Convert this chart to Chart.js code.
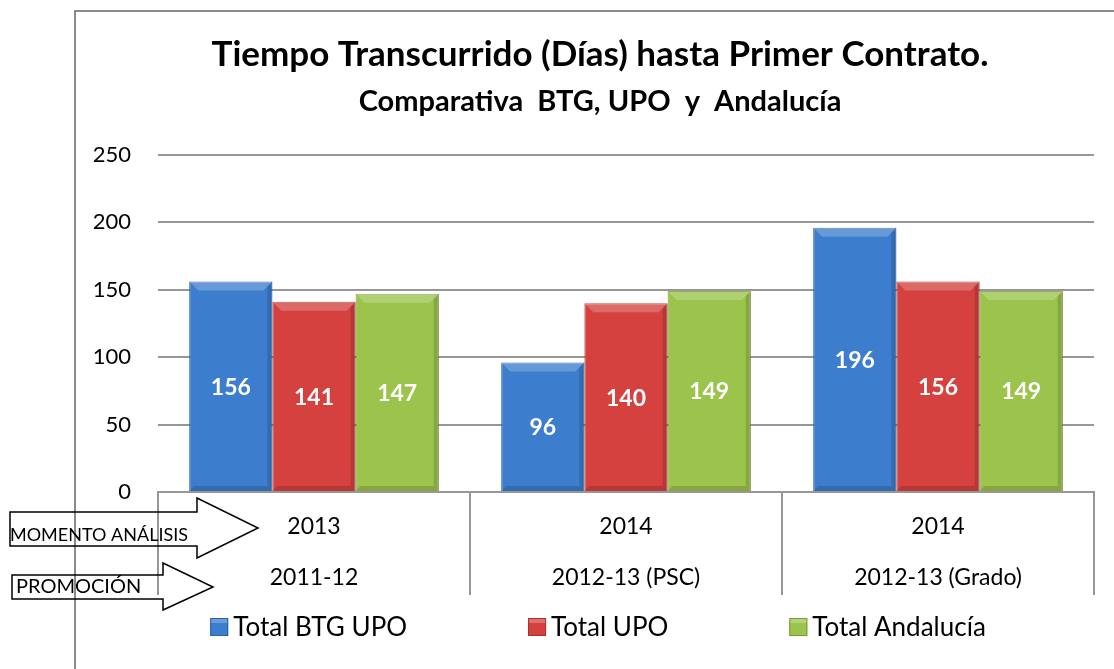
<!DOCTYPE html>
<html>
<head>
<meta charset="utf-8">
<script src="https://cdn.jsdelivr.net/npm/chart.js@4/dist/chart.umd.min.js"></script>
<style>
	html, body { margin: 0; padding: 0; background: #fff; }
	#wrap { width: 1114px; height: 669px; position: relative; }
</style>
</head>
<body>
<div id="wrap"><canvas id="myChart" width="1114" height="669"></canvas></div>
<script>
// chart data
const 	years = ['2013', '2014', '2014'],
		promotions = ['2011-12', '2012-13 (PSC)', '2012-13 (Grado)'],
		totalBtgUpo = [156, 96, 196],
		totalUpo = [141, 140, 156],
		totalAndalucia = [147, 149, 149],
		seriesNames = ['Total BTG UPO', 'Total UPO', 'Total Andalucía'],
		arrowLabels = ['MOMENTO ANÁLISIS', 'PROMOCIÓN'];

const 	fillColors = ['#3c7dcd', '#d5413e', '#9cc34b'],
		edgeColors = ['#2d62a8', '#a9322f', '#7a9b35'],
		gridColor = '#979797';

Chart.defaults.font.family = 'Lato, "Open Sans", sans-serif';
Chart.defaults.color = '#000';

// frame round the chart
const framePlugin = {
	id: 'frame',
	beforeDraw(chart){
		const c = chart.ctx;
		c.save();
		c.strokeStyle = '#8a8a8a';
		c.lineWidth = 2;
		c.beginPath();
		c.moveTo(75, 669);
		c.lineTo(75, 11);
		c.lineTo(1114, 11);
		c.stroke();
		c.restore();
	}
}

// bevel look + values inside bars
const barLabels = {
	id: 'barLabels',
	afterDatasetsDraw(chart){
		const c = chart.ctx;
		c.save();
		chart.data.datasets.forEach((ds, i)=>{
			chart.getDatasetMeta(i).data.forEach((bar, j)=>{
				const l = bar.x - bar.width / 2, r = bar.x + bar.width / 2,
					  t = bar.y, b = bar.base, bv = 9;
				// top bevel
				c.fillStyle = 'rgba(255,255,255,0.22)';
				c.beginPath();
				c.moveTo(l, t); c.lineTo(r, t); c.lineTo(r - bv, t + bv); c.lineTo(l + bv, t + bv);
				c.closePath(); c.fill();
				// right + bottom shade
				c.fillStyle = 'rgba(0,0,0,0.14)';
				c.beginPath();
				c.moveTo(r, t); c.lineTo(r, b); c.lineTo(r - 5, b - 5); c.lineTo(r - 5, t + 5);
				c.closePath(); c.fill();
				c.beginPath();
				c.moveTo(l, b); c.lineTo(r, b); c.lineTo(r - 5, b - 5); c.lineTo(l + 5, b - 5);
				c.closePath(); c.fill();
				// value
				c.fillStyle = '#fff';
				c.font = 'bold 23px Lato';
				c.textAlign = 'center';
				c.textBaseline = 'middle';
				c.fillText(ds.data[j], bar.x, (t + b) / 2 + 1);
			})
		})
		c.restore();
	}
}

// arrows on the left + legend under the chart
const extras = {
	id: 'extras',
	afterDraw(chart){
		const c = chart.ctx;
		c.save();
		c.strokeStyle = '#000';
		c.lineWidth = 1.5;
		const arrows = [
			[[10,512],[197,512],[197,498],[258,528],[197,558],[197,546],[10,546]],
			[[12,575],[163,575],[163,563],[213,587],[163,610],[163,599],[12,599]]
		];
		arrows.forEach(pts=>{
			c.beginPath();
			pts.forEach((p, k)=> k ? c.lineTo(p[0], p[1]) : c.moveTo(p[0], p[1]));
			c.closePath();
			c.stroke();
		})
		c.fillStyle = '#000';
		c.textAlign = 'left';
		c.textBaseline = 'middle';
		c.font = '18px Lato';
		c.fillText(arrowLabels[0], 10, 535);
		c.font = '20px Lato';
		c.fillText(arrowLabels[1], 16, 587);

		// legend
		c.font = '26px Lato';
		const box = 18, gap = 5, spacing = 121, y = 627;
		let widths = chart.data.datasets.map(ds => box + gap + c.measureText(ds.label).width);
		let total = widths.reduce((a, b) => a + b, 0) + spacing * (widths.length - 1);
		let x = 598 - total / 2;
		chart.data.datasets.forEach((ds, i)=>{
			c.fillStyle = ds.backgroundColor;
			c.fillRect(x, y - box / 2, box, box);
			c.fillStyle = 'rgba(255,255,255,0.25)';
			c.fillRect(x, y - box / 2, box, 5);
			c.strokeStyle = ds.borderColor;
			c.lineWidth = 1;
			c.strokeRect(x + 0.5, y - box / 2 + 0.5, box - 1, box - 1);
			c.fillStyle = '#000';
			c.fillText(ds.label, x + box + gap, y + 1);
			x += widths[i] + spacing;
		})
		c.restore();
	}
}

const ctx = document.getElementById('myChart');
const myChart = new Chart(ctx, {
	type: 'bar',
	data: {
		labels: years.map((y, i) => [y, promotions[i]]),
		datasets: [totalBtgUpo, totalUpo, totalAndalucia].map((d, i)=>({
			label: seriesNames[i],
			data: d,
			backgroundColor: fillColors[i],
			borderColor: edgeColors[i],
			borderWidth: 1,
			categoryPercentage: 0.8,
			barPercentage: 1
		}))
	},
	options: {
		responsive: false,
		animation: false,
		events: [],
		layout: { padding: { left: 86, right: 0, top: 0, bottom: 65 } },
		plugins: {
			legend: { display: false },
			tooltip: { enabled: false },
			title: {
				display: true,
				text: 'Tiempo Transcurrido (Días) hasta Primer Contrato.',
				font: { size: 35, weight: 'bold' },
				lineHeight: 1.2,
				padding: { top: 34, bottom: 8 },
				color: '#000'
			},
			subtitle: {
				display: true,
				text: 'Comparativa  BTG, UPO  y  Andalucía',
				font: { size: 29, weight: 'bold' },
				padding: { top: 0, bottom: 36 },
				color: '#000'
			}
		},
		scales: {
			x: {
				afterFit: s => { s.height = 112 },
				grid: {
					offset: true,
					drawOnChartArea: false,
					drawTicks: true,
					tickLength: 103,
					color: gridColor,
					lineWidth: 2
				},
				border: { display: true, color: gridColor, width: 2 },
				ticks: {
					padding: -93.5,
					font: { size: 23, lineHeight: 51 / 23 },
					color: '#000',
					maxRotation: 0
				}
			},
			y: {
				min: 0,
				max: 250,
				afterFit: s => { s.width = 72 },
				grid: { drawTicks: false, color: gridColor, lineWidth: 2 },
				border: { display: false },
				ticks: {
					stepSize: 50,
					padding: 27,
					font: { size: 22 },
					color: '#000'
				}
			},
			// empty strip on the right, keeps the plot off the edge
			yRight: {
				position: 'right',
				afterFit: s => { s.width = 20 },
				grid: { display: false },
				border: { display: false },
				ticks: { display: false }
			}
		}
	},
	plugins: [framePlugin, barLabels, extras]
});
</script>
</body>
</html>
